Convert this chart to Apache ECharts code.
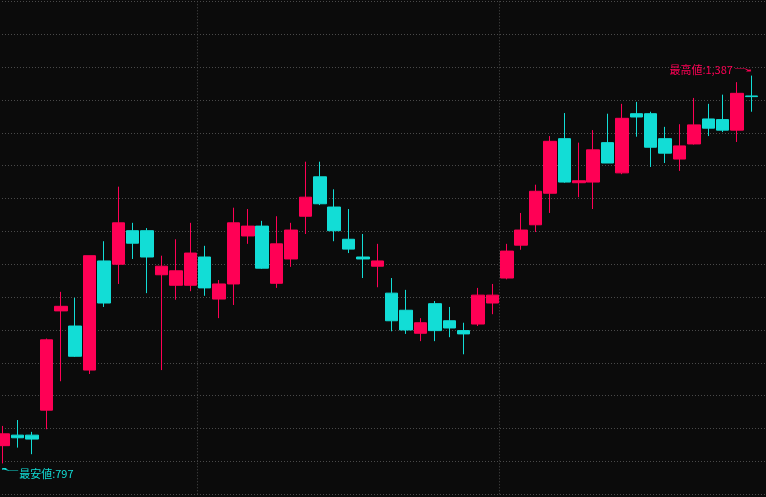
<!DOCTYPE html>
<html>
<head>
<meta charset="utf-8">
<script src="https://cdn.jsdelivr.net/npm/echarts@6/dist/echarts.min.js"></script>
<style>
html,body{margin:0;padding:0;background:#0b0b0b;}
#chart{width:766px;height:497px;}
</style>
</head>
<body>
<div id="chart"></div>
<script>
var categories = ['1','2','3','4','5','6','7','8','9','10','11','12','13','14','15','16','17','18','19','20',
  '21','22','23','24','25','26','27','28','29','30','31','32','33','34','35','36','37','38','39','40',
  '41','42','43','44','45','46','47','48','49','50','51','52','53'];
var openValues  = [824,840,840,878,1029,1006,939,1105,1100,1151,1151,1084,1068,1068,1111,1047,1070,1143,1158,1071,
  1108,1173,1233,1187,1138,1111,1097,1056,1030,995,1040,1014,999,1009,1041,1079,1129,1160,1208,1291,
  1224,1225,1285,1239,1329,1329,1291,1260,1283,1321,1320,1304,1356];
var closeValues = [842,836,834,985,1036,960,1113,1041,1163,1132,1111,1097,1090,1117,1064,1070,1163,1158,1094,1131,
  1152,1202,1192,1151,1123,1108,1105,1014,1000,1011,999,1003,994,1053,1053,1120,1152,1211,1287,1225,
  1227,1274,1254,1322,1324,1278,1269,1280,1312,1307,1304,1360,1355];
var lowValues   = [797,821,811,849,922,959,933,1035,1070,1108,1056,939,1046,1059,1052,1018,1038,1131,1093,1064,
  1096,1146,1190,1135,1117,1079,1065,998,994,983,983,989,963,1006,1024,1077,1122,1149,1178,1224,
  1202,1184,1254,1237,1294,1248,1254,1242,1282,1295,1301,1286,1332];
var highValues  = [854,863,845,987,1058,1049,1113,1135,1218,1163,1155,1113,1138,1163,1128,1076,1186,1184,1166,1173,
  1163,1256,1256,1214,1184,1146,1131,1079,1061,1018,1044,1035,1011,1064,1070,1131,1178,1221,1295,1330,
  1285,1304,1329,1344,1347,1332,1309,1313,1353,1344,1358,1377,1387];

var UP = '#ff0055', DOWN = '#12ddd6';
var candleData = categories.map(function (c, i) {
  return [openValues[i], closeValues[i], lowValues[i], highValues[i]];
});
var axisCats = categories.concat(['']);

function fmt(v) { return Number(v).toLocaleString('en-US'); }

var chart = echarts.init(document.getElementById('chart'));
chart.setOption({
  backgroundColor: '#0b0b0b',
  animation: false,
  grid: { left: -4, right: -7, top: 1.3, bottom: 2.7, outerBoundsMode: 'none', containLabel: false },
  xAxis: {
    type: 'category',
    data: axisCats,
    boundaryGap: true,
    axisLine: { show: false },
    axisTick: { show: false },
    axisLabel: { show: false },
    splitLine: {
      show: true,
      interval: function (idx) { return idx % 21 === 14; },
      lineStyle: { color: '#4a4a4a', type: [1, 2], width: 1 }
    }
  },
  yAxis: {
    type: 'value',
    min: 750, max: 1500, interval: 50,
    axisLine: { show: false },
    axisTick: { show: false },
    axisLabel: { show: false },
    splitLine: { show: true, lineStyle: { color: '#4a4a4a', type: [1, 2], width: 1 } }
  },
  series: [{
    type: 'candlestick',
    data: candleData,
    barWidth: 13,
    itemStyle: { color: UP, color0: DOWN, borderColor: UP, borderColor0: DOWN, borderWidth: 1 },
    markPoint: {
      animation: false,
      data: [
        {
          type: 'max', valueDim: 'highest', name: 'max',
          symbol: 'path://M0,0 L10.5,0 L13.4,2.9 L16,2 L16,7 L11,7 L12.6,4.5 L10,1.3 L0,1.3 Z',
          symbolSize: [16, 7], symbolKeepAspect: true, symbolOffset: [-8.5, -5.5],
          itemStyle: { color: UP },
          label: {
            show: true, position: 'left', distance: 2, color: UP,
            fontSize: 11, fontFamily: '"Noto Sans CJK JP", sans-serif',
            formatter: function (p) { return '最高値:' + fmt(p.value); }
          }
        },
        {
          type: 'min', valueDim: 'lowest', name: 'min',
          symbol: 'path://M0,0 L5,0 L3.5,1.5 L6.8,5.3 L16,5.3 L16,6.6 L6.2,6.6 L1.5,3.5 L0,5 Z',
          symbolSize: [16, 6.6], symbolKeepAspect: true, symbolOffset: [7, 6],
          itemStyle: { color: DOWN },
          label: {
            show: true, position: 'right', distance: 1, offset: [0, 4.7], color: DOWN,
            fontSize: 11, fontFamily: '"Noto Sans CJK JP", sans-serif',
            formatter: function (p) { return '最安値:' + fmt(p.value); }
          }
        }
      ]
    }
  }]
});
</script>
</body>
</html>
